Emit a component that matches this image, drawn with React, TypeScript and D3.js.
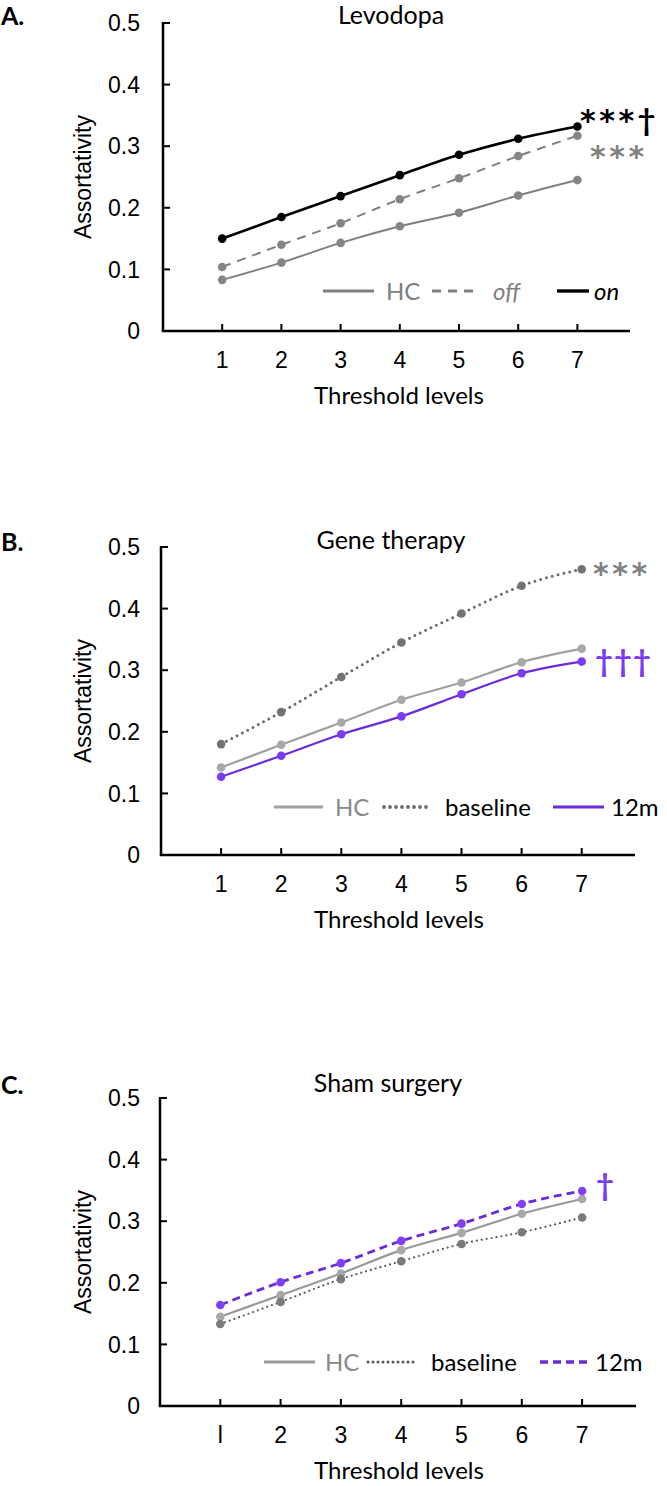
import React from "react";
import * as d3 from "d3";

const thresholds = [1, 2, 3, 4, 5, 6, 7];
const xTickLabelsAB = ["1", "2", "3", "4", "5", "6", "7"];
const xTickLabelsC = ["l", "2", "3", "4", "5", "6", "7"];
const yTicks = [0, 0.1, 0.2, 0.3, 0.4, 0.5];
const yTickLabels = ["0", "0.1", "0.2", "0.3", "0.4", "0.5"];

const levodopaHC = [0.083, 0.111, 0.143, 0.17, 0.192, 0.22, 0.245];
const levodopaOff = [0.104, 0.14, 0.175, 0.214, 0.248, 0.284, 0.317];
const levodopaOn = [0.15, 0.185, 0.219, 0.253, 0.286, 0.312, 0.332];

const geneHC = [0.142, 0.179, 0.215, 0.252, 0.28, 0.313, 0.335];
const geneBaseline = [0.18, 0.232, 0.289, 0.345, 0.392, 0.437, 0.464];
const gene12m = [0.127, 0.161, 0.196, 0.225, 0.261, 0.295, 0.314];

const shamHC = [0.145, 0.18, 0.215, 0.253, 0.281, 0.312, 0.336];
const shamBaseline = [0.133, 0.169, 0.206, 0.235, 0.263, 0.282, 0.306];
const sham12m = [0.164, 0.201, 0.232, 0.268, 0.296, 0.328, 0.349];

const CAL = "Lato, 'Open Sans', sans-serif";
const ARIAL = "'Liberation Sans', Arial, sans-serif";
const STAR = "'DejaVu Sans', sans-serif";

type Series = {
  values: number[];
  stroke: string;
  dot: string;
  width: number;
  dash?: string;
  cap?: string;
  legend: string;
  legendColor: string;
  italic?: boolean;
  legendLine: [number, number];
  legendText: number;
};

type Annot = { stars: number; daggers: number; x: number; y: number; color: string };

type Panel = {
  letter: string;
  letterY: number;
  title: string;
  titleX: number;
  titleY: number;
  x0: number;
  step: number;
  axisEnd: number;
  yBottom: number;
  yTop: number;
  xLabels: string[];
  series: Series[];
  legendY: number;
  annots: Annot[];
};

const panels: Panel[] = [
  {
    letter: "A.",
    letterY: 25,
    title: "Levodopa",
    titleX: 391,
    titleY: 24,
    x0: 163,
    step: 59.2,
    axisEnd: 630,
    yBottom: 331,
    yTop: 23,
    xLabels: xTickLabelsAB,
    legendY: 291,
    series: [
      { values: levodopaHC, stroke: "#7f7f7f", dot: "#858585", width: 2, legend: "HC", legendColor: "#7f7f7f", legendLine: [323, 374], legendText: 386 },
      { values: levodopaOff, stroke: "#7f7f7f", dot: "#858585", width: 2, dash: "9,7", legend: "off", legendColor: "#7f7f7f", italic: true, legendLine: [432, 474], legendText: 493 },
      { values: levodopaOn, stroke: "#000000", dot: "#000000", width: 2.6, legend: "on", legendColor: "#000000", italic: true, legendLine: [557, 589], legendText: 594 },
    ],
    annots: [
      { stars: 3, daggers: 1, x: 580, y: 131, color: "#000000" },
      { stars: 3, daggers: 0, x: 590, y: 167, color: "#808080" },
    ],
  },
  {
    letter: "B.",
    letterY: 551,
    title: "Gene therapy",
    titleX: 391,
    titleY: 549,
    x0: 161,
    step: 60.1,
    axisEnd: 635,
    yBottom: 855,
    yTop: 547,
    xLabels: xTickLabelsAB,
    legendY: 807,
    series: [
      { values: geneHC, stroke: "#a0a0a0", dot: "#a8a8a8", width: 2.2, legend: "HC", legendColor: "#8a8a8a", legendLine: [274, 323], legendText: 335 },
      { values: geneBaseline, stroke: "#6b6b6b", dot: "#737373", width: 3, dash: "0,6", cap: "round", legend: "baseline", legendColor: "#000000", legendLine: [384, 428], legendText: 445 },
      { values: gene12m, stroke: "#6a2bd9", dot: "#7a3cf2", width: 2.2, legend: "12m", legendColor: "#000000", legendLine: [553, 604], legendText: 611 },
    ],
    annots: [
      { stars: 3, daggers: 0, x: 593, y: 584, color: "#808080" },
      { stars: 0, daggers: 3, x: 595, y: 672, color: "#7a3cf2" },
    ],
  },
  {
    letter: "C.",
    letterY: 1094,
    title: "Sham surgery",
    titleX: 388,
    titleY: 1092,
    x0: 160,
    step: 60.3,
    axisEnd: 636,
    yBottom: 1406,
    yTop: 1098,
    xLabels: xTickLabelsC,
    legendY: 1362,
    series: [
      { values: shamHC, stroke: "#999999", dot: "#a8a8a8", width: 2.2, legend: "HC", legendColor: "#8a8a8a", legendLine: [264, 315], legendText: 325 },
      { values: shamBaseline, stroke: "#555555", dot: "#7a7a7a", width: 2.2, dash: "0,5", cap: "round", legend: "baseline", legendColor: "#000000", legendLine: [368, 415], legendText: 431 },
      { values: sham12m, stroke: "#6a2bd9", dot: "#8040f5", width: 2.8, dash: "8,5", legend: "12m", legendColor: "#000000", legendLine: [540, 591], legendText: 595 },
    ],
    annots: [{ stars: 0, daggers: 1, x: 596, y: 1196, color: "#7a3cf2" }],
  },
];

function PanelView({ p }: { p: Panel }) {
  const x = d3.scaleLinear().domain([0, 1]).range([p.x0, p.x0 + p.step]);
  const y = d3.scaleLinear().domain([0, 0.5]).range([p.yBottom, p.yTop]);
  const line = d3
    .line<number>()
    .x((_, i) => x(thresholds[i]))
    .y((v) => y(v))
    .curve(d3.curveMonotoneX);
  const midY = (p.yBottom + p.yTop) / 2;
  return (
    <g>
      <text x={1} y={p.letterY} fontFamily={CAL} fontWeight="bold" fontSize={25} fill="#000">
        {p.letter}
      </text>
      <text x={p.titleX} y={p.titleY} textAnchor="middle" fontFamily={CAL} fontSize={25} fill="#000">
        {p.title}
      </text>
      <line x1={p.x0} x2={p.x0} y1={p.yTop - 1} y2={p.yBottom} stroke="#000" strokeWidth={2.5} />
      <line x1={p.x0 - 1.25} x2={p.axisEnd} y1={p.yBottom} y2={p.yBottom} stroke="#000" strokeWidth={2.5} />
      {yTicks.map((t, i) => (
        <g key={"y" + i}>
          <line x1={p.x0} x2={p.x0 + 7} y1={y(t)} y2={y(t)} stroke="#000" strokeWidth={2} />
          <text x={140} y={y(t)} dy="0.36em" textAnchor="end" fontFamily={ARIAL} fontSize={23} fill="#000">
            {yTickLabels[i]}
          </text>
        </g>
      ))}
      {thresholds.map((t, i) => (
        <g key={"x" + i}>
          <line x1={x(t)} x2={x(t)} y1={p.yBottom} y2={p.yBottom - 7} stroke="#000" strokeWidth={2} />
          <text x={x(t)} y={p.yBottom + 37} textAnchor="middle" fontFamily={ARIAL} fontSize={23} fill="#000">
            {p.xLabels[i]}
          </text>
        </g>
      ))}
      <text
        transform={`translate(${91},${midY}) rotate(-90)`}
        textAnchor="middle"
        fontFamily={ARIAL}
        fontSize={23}
        fill="#000"
      >
        Assortativity
      </text>
      <text x={399} y={p.yBottom + 73} textAnchor="middle" fontFamily={CAL} fontSize={24} fill="#000">
        Threshold levels
      </text>
      {p.series.map((s, si) => (
        <g key={"s" + si}>
          <path
            d={line(s.values) || ""}
            fill="none"
            stroke={s.stroke}
            strokeWidth={s.width}
            strokeDasharray={s.dash}
            strokeLinecap={(s.cap as any) || "butt"}
          />
          {s.values.map((v, i) => (
            <circle key={i} cx={x(thresholds[i])} cy={y(v)} r={4.3} fill={s.dot} />
          ))}
        </g>
      ))}
      {p.series.map((s, si) => (
        <g key={"l" + si}>
          <line
            x1={s.legendLine[0]}
            x2={s.legendLine[1]}
            y1={p.legendY}
            y2={p.legendY}
            stroke={s.stroke}
            strokeWidth={s.width + 0.8}
            strokeDasharray={s.dash}
            strokeLinecap={(s.cap as any) || "butt"}
          />
          <text
            x={s.legendText}
            y={p.legendY}
            dy="0.36em"
            fontFamily={CAL}
            fontSize={24}
            fontStyle={s.italic ? "italic" : "normal"}
            fill={s.legendColor}
          >
            {s.legend}
          </text>
        </g>
      ))}
      {p.annots.map((a, ai) => (
        <text key={"a" + ai} x={a.x} y={a.y} fill={a.color}>
          {a.stars > 0 && (
            <tspan fontFamily={STAR} fontWeight="bold" fontSize={30} letterSpacing={3.5}>
              {"*".repeat(a.stars)}
            </tspan>
          )}
          {a.daggers > 0 && (
            <tspan fontFamily={CAL} fontWeight="bold" fontSize={31} letterSpacing={1}>
              {"†".repeat(a.daggers)}
            </tspan>
          )}
        </text>
      ))}
    </g>
  );
}

export default function App() {
  return (
    <svg
      width={667}
      height={1486}
      viewBox="0 0 667 1486"
      style={{ position: "absolute", left: 0, top: 0, background: "#fff" }}
    >
      <rect width={667} height={1486} fill="#fff" />
      {panels.map((p, i) => (
        <PanelView key={i} p={p} />
      ))}
    </svg>
  );
}
